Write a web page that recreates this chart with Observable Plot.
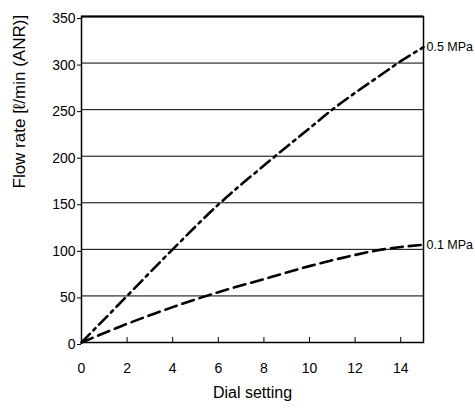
<!DOCTYPE html>
<html><head><meta charset="utf-8">
<script src="https://cdn.jsdelivr.net/npm/d3@7"></script>
<script src="https://cdn.jsdelivr.net/npm/@observablehq/plot@0.6"></script>
<style>body{margin:0;background:#fff}</style>
</head><body><div id="chart"></div>
<script>
const dial = [0, 2, 4, 6, 8, 10, 11, 12, 13, 14, 15];
const flow05 = [0, 50, 100, 148, 190, 230, 250, 268, 285, 302, 317];
const dial01 = [0, 2, 4, 6, 8, 10, 12, 13, 14, 15];
const flow01 = [0, 20, 38, 54, 68, 82, 94, 99, 102.5, 105];
const seriesNames = ["0.5 MPa", "0.1 MPa"];
const xTicks = [0, 2, 4, 6, 8, 10, 12, 14];
const yTicks = [0, 50, 100, 150, 200, 250, 300, 350];
const xTitle = "Dial setting";
const yTitle = "Flow rate [ℓ/min (ANR)]";

const s05 = dial.map((d, i) => ({x: d, y: flow05[i]}));
const s01 = dial01.map((d, i) => ({x: d, y: flow01[i]}));
const labels = [
  {x: 15, y: flow05[flow05.length - 1], t: seriesNames[0]},
  {x: 15, y: flow01[flow01.length - 1], t: seriesNames[1]}
];

const chart = Plot.plot({
  width: 475, height: 409,
  marginLeft: 81, marginRight: 52, marginTop: 16, marginBottom: 67,
  style: {fontFamily: "'Liberation Sans', Arial, sans-serif", fontSize: "14px", color: "#000", background: "#fff"},
  x: {domain: [0, 15]},
  y: {domain: [0, 350]},
  marks: [
    Plot.ruleY(yTicks, {stroke: "#000", strokeWidth: 1}),
    Plot.frame({stroke: "#000", strokeWidth: 1.5}),
    Plot.ruleY([350], {stroke: "#000", strokeWidth: 2}),
    Plot.tickX(xTicks, {x: d => d, stroke: "#000", strokeWidth: 1, insetTop: 321}),
    Plot.axisX({ticks: xTicks, tickSize: 0, tickPadding: 21, label: null, fontSize: 14}),
    Plot.axisY({ticks: yTicks, tickSize: 4, tickPadding: 2, label: null, fontSize: 14, dy: 2}),
    Plot.text([xTitle], {text: d => d, frameAnchor: "bottom", dy: 55, fontSize: 16, fill: "#000"}),
    Plot.text([yTitle], {text: d => d, frameAnchor: "left", rotate: -90, dx: -62, dy: 9, fontSize: 17, fill: "#000"}),
    Plot.line(s05, {x: "x", y: "y", curve: "monotone-x", stroke: "#000", strokeWidth: 2.6, strokeDasharray: "12,5,3,5"}),
    Plot.line(s01, {x: "x", y: "y", curve: "monotone-x", stroke: "#000", strokeWidth: 2.6, strokeDasharray: "12,6"}),
    Plot.text(labels, {x: "x", y: "y", text: "t", dx: 3, textAnchor: "start", fontSize: 12.5, fill: "#000"})
  ]
});
document.getElementById("chart").appendChild(chart);
</script></body></html>
